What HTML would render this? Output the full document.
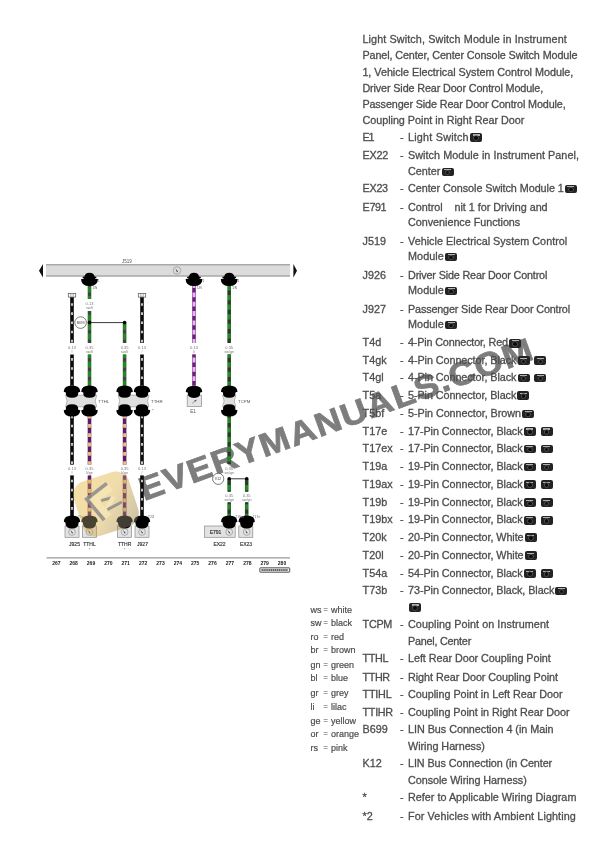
<!DOCTYPE html>
<html><head><meta charset="utf-8">
<style>
html,body{margin:0;padding:0;background:#fff;}
body{width:612px;height:866px;position:relative;overflow:hidden;}
.t{position:absolute;white-space:nowrap;font-family:"Liberation Sans",sans-serif;font-size:10.8px;line-height:16px;color:#4d4d4d;letter-spacing:0px;-webkit-text-stroke:0.3px #4d4d4d;}
.l{position:absolute;white-space:nowrap;font-family:"Liberation Sans",sans-serif;font-size:9px;line-height:14px;color:#4d4d4d;-webkit-text-stroke:0.2px #4d4d4d;}
.ic{display:inline-block;width:12px;height:8.8px;margin-left:1.2px;vertical-align:-1.3px;border-radius:2px;background:#232323;position:relative;}
.ic:before{content:"";position:absolute;left:2.5px;right:2.5px;top:1.4px;height:1.2px;background:#b0b0b0;}
.ic:after{content:"";position:absolute;left:4.2px;top:3.2px;width:3.6px;height:3.6px;border-radius:50%;background:#0c0c0c;box-shadow:0 0 0 0.7px #5a5a5a;}
.sp{display:inline-block;width:3.8px;}
.wm{position:absolute;left:0;top:0;font-family:"Liberation Sans",sans-serif;font-weight:bold;font-size:35px;line-height:40px;color:#7d7d7d;white-space:nowrap;transform-origin:0 32px;}
svg{position:absolute;left:0;top:0;}
</style></head><body>
<div class="wm" style="left:144.3px;top:468.2px;font-size:33px;line-height:44px;letter-spacing:1.1px;transform-origin:0 33px;transform:rotate(-19.96deg) scaleX(1.1);-webkit-text-stroke:0.7px #7d7d7d;">EVERYMANUALS.COM</div>
<svg width="612" height="866" viewBox="0 0 612 866">
<rect x="46" y="264.5" width="244" height="11.5" fill="#dcdcdc"/>
<line x1="46" y1="264.7" x2="290" y2="264.7" stroke="#a9a9a9" stroke-width="1.4"/>
<line x1="46" y1="276" x2="290" y2="276" stroke="#a9a9a9" stroke-width="1.4"/>
<path d="M39 270.7 L43 264 L43 277.5 Z" fill="#111"/>
<path d="M297 270.7 L293.4 264 L293.4 277.5 Z" fill="#111"/>
<text x="122" y="262.5" font-family="Liberation Sans" font-size="4.5" fill="#555">J519</text>
<circle cx="177" cy="270.5" r="3.8" fill="none" stroke="#888" stroke-width="0.6"/>
<path d="M175.5 268.5 L178 271.5 L177 272.5 Z" fill="#333"/>
<line x1="72" y1="297" x2="72" y2="343" stroke="#0a0a0a" stroke-width="3.6"/>
<line x1="72" y1="297" x2="72" y2="343" stroke="#fff" stroke-width="1.5" stroke-dasharray="2.6 6.55" stroke-dashoffset="2.95"/>
<line x1="72" y1="354.5" x2="72" y2="388" stroke="#0a0a0a" stroke-width="3.6"/>
<line x1="72" y1="354.5" x2="72" y2="388" stroke="#fff" stroke-width="1.5" stroke-dasharray="2.6 6.55" stroke-dashoffset="5.55"/>
<line x1="142" y1="297" x2="142" y2="343" stroke="#0a0a0a" stroke-width="3.6"/>
<line x1="142" y1="297" x2="142" y2="343" stroke="#fff" stroke-width="1.5" stroke-dasharray="2.6 6.55" stroke-dashoffset="2.95"/>
<line x1="142" y1="354.5" x2="142" y2="388" stroke="#0a0a0a" stroke-width="3.6"/>
<line x1="142" y1="354.5" x2="142" y2="388" stroke="#fff" stroke-width="1.5" stroke-dasharray="2.6 6.55" stroke-dashoffset="5.55"/>
<line x1="89.5" y1="284" x2="89.5" y2="299" stroke="#236e23" stroke-width="3.6"/>
<line x1="89.5" y1="284" x2="89.5" y2="299" stroke="#248a24" stroke-width="2.6"/>
<line x1="89.5" y1="284" x2="89.5" y2="299" stroke="#4a3a52" stroke-width="2.8" stroke-dasharray="3.5 5.90" stroke-dashoffset="0.90"/>
<line x1="89.5" y1="311" x2="89.5" y2="343" stroke="#236e23" stroke-width="3.6"/>
<line x1="89.5" y1="311" x2="89.5" y2="343" stroke="#248a24" stroke-width="2.6"/>
<line x1="89.5" y1="311" x2="89.5" y2="343" stroke="#4a3a52" stroke-width="2.8" stroke-dasharray="3.5 5.90" stroke-dashoffset="9.10"/>
<line x1="89.5" y1="354.5" x2="89.5" y2="388" stroke="#236e23" stroke-width="3.6"/>
<line x1="89.5" y1="354.5" x2="89.5" y2="388" stroke="#248a24" stroke-width="2.6"/>
<line x1="89.5" y1="354.5" x2="89.5" y2="388" stroke="#4a3a52" stroke-width="2.8" stroke-dasharray="3.5 5.90" stroke-dashoffset="5.60"/>
<line x1="124.6" y1="322.6" x2="124.6" y2="343" stroke="#236e23" stroke-width="3.6"/>
<line x1="124.6" y1="322.6" x2="124.6" y2="343" stroke="#248a24" stroke-width="2.6"/>
<line x1="124.6" y1="322.6" x2="124.6" y2="343" stroke="#4a3a52" stroke-width="2.8" stroke-dasharray="3.5 5.90" stroke-dashoffset="1.90"/>
<line x1="124.6" y1="354.5" x2="124.6" y2="388" stroke="#236e23" stroke-width="3.6"/>
<line x1="124.6" y1="354.5" x2="124.6" y2="388" stroke="#248a24" stroke-width="2.6"/>
<line x1="124.6" y1="354.5" x2="124.6" y2="388" stroke="#4a3a52" stroke-width="2.8" stroke-dasharray="3.5 5.90" stroke-dashoffset="5.60"/>
<line x1="194" y1="284" x2="194" y2="343" stroke="#701a80" stroke-width="3.6"/>
<line x1="194" y1="284" x2="194" y2="343" stroke="#e4bce9" stroke-width="2.8" stroke-dasharray="4.8 4.50" stroke-dashoffset="0.80"/>
<line x1="194" y1="354.3" x2="194" y2="388" stroke="#701a80" stroke-width="3.6"/>
<line x1="194" y1="354.3" x2="194" y2="388" stroke="#e4bce9" stroke-width="2.8" stroke-dasharray="4.8 4.50" stroke-dashoffset="6.00"/>
<line x1="229.2" y1="284" x2="229.2" y2="343" stroke="#236e23" stroke-width="3.6"/>
<line x1="229.2" y1="284" x2="229.2" y2="343" stroke="#248a24" stroke-width="2.6"/>
<line x1="229.2" y1="284" x2="229.2" y2="343" stroke="#333" stroke-width="2.8" stroke-dasharray="4.4 5.20" stroke-dashoffset="3.00"/>
<line x1="229.2" y1="354.3" x2="229.2" y2="388" stroke="#236e23" stroke-width="3.6"/>
<line x1="229.2" y1="354.3" x2="229.2" y2="388" stroke="#248a24" stroke-width="2.6"/>
<line x1="229.2" y1="354.3" x2="229.2" y2="388" stroke="#333" stroke-width="2.8" stroke-dasharray="4.4 5.20" stroke-dashoffset="6.10"/>
<line x1="72" y1="414" x2="72" y2="464.7" stroke="#0a0a0a" stroke-width="3.6"/>
<line x1="72" y1="414" x2="72" y2="464.7" stroke="#fff" stroke-width="1.5" stroke-dasharray="2.6 6.55" stroke-dashoffset="7.55"/>
<line x1="72" y1="475.4" x2="72" y2="518" stroke="#0a0a0a" stroke-width="3.6"/>
<line x1="72" y1="475.4" x2="72" y2="518" stroke="#fff" stroke-width="1.5" stroke-dasharray="2.6 6.55" stroke-dashoffset="4.90"/>
<line x1="142" y1="414" x2="142" y2="464.7" stroke="#0a0a0a" stroke-width="3.6"/>
<line x1="142" y1="414" x2="142" y2="464.7" stroke="#fff" stroke-width="1.5" stroke-dasharray="2.6 6.55" stroke-dashoffset="7.55"/>
<line x1="142" y1="475.4" x2="142" y2="518" stroke="#0a0a0a" stroke-width="3.6"/>
<line x1="142" y1="475.4" x2="142" y2="518" stroke="#fff" stroke-width="1.5" stroke-dasharray="2.6 6.55" stroke-dashoffset="4.90"/>
<line x1="89.5" y1="414" x2="89.5" y2="464.7" stroke="#5e1a66" stroke-width="3.6"/>
<line x1="89.5" y1="414" x2="89.5" y2="464.7" stroke="#e9c77a" stroke-width="2.8" stroke-dasharray="3.8 5.50" stroke-dashoffset="8.60"/>
<line x1="89.5" y1="475.4" x2="89.5" y2="518" stroke="#5e1a66" stroke-width="3.6"/>
<line x1="89.5" y1="475.4" x2="89.5" y2="518" stroke="#e9c77a" stroke-width="2.8" stroke-dasharray="3.8 5.50" stroke-dashoffset="4.90"/>
<line x1="124.6" y1="414" x2="124.6" y2="464.7" stroke="#5e1a66" stroke-width="3.6"/>
<line x1="124.6" y1="414" x2="124.6" y2="464.7" stroke="#e9c77a" stroke-width="2.8" stroke-dasharray="3.8 5.50" stroke-dashoffset="8.60"/>
<line x1="124.6" y1="475.4" x2="124.6" y2="518" stroke="#5e1a66" stroke-width="3.6"/>
<line x1="124.6" y1="475.4" x2="124.6" y2="518" stroke="#e9c77a" stroke-width="2.8" stroke-dasharray="3.8 5.50" stroke-dashoffset="4.90"/>
<line x1="229.2" y1="414" x2="229.2" y2="464" stroke="#236e23" stroke-width="3.6"/>
<line x1="229.2" y1="414" x2="229.2" y2="464" stroke="#248a24" stroke-width="2.6"/>
<line x1="229.2" y1="414" x2="229.2" y2="464" stroke="#333" stroke-width="2.8" stroke-dasharray="4.4 5.20" stroke-dashoffset="0.60"/>
<line x1="229.2" y1="478.8" x2="229.2" y2="491.6" stroke="#236e23" stroke-width="3.6"/>
<line x1="229.2" y1="478.8" x2="229.2" y2="491.6" stroke="#248a24" stroke-width="2.6"/>
<line x1="229.2" y1="478.8" x2="229.2" y2="491.6" stroke="#333" stroke-width="2.8" stroke-dasharray="4.4 5.20" stroke-dashoffset="7.80"/>
<line x1="229.2" y1="502.4" x2="229.2" y2="518" stroke="#236e23" stroke-width="3.6"/>
<line x1="229.2" y1="502.4" x2="229.2" y2="518" stroke="#248a24" stroke-width="2.6"/>
<line x1="229.2" y1="502.4" x2="229.2" y2="518" stroke="#333" stroke-width="2.8" stroke-dasharray="4.4 5.20" stroke-dashoffset="2.60"/>
<line x1="246.7" y1="478.8" x2="246.7" y2="491.6" stroke="#236e23" stroke-width="3.6"/>
<line x1="246.7" y1="478.8" x2="246.7" y2="491.6" stroke="#248a24" stroke-width="2.6"/>
<line x1="246.7" y1="478.8" x2="246.7" y2="491.6" stroke="#333" stroke-width="2.8" stroke-dasharray="4.4 5.20" stroke-dashoffset="7.80"/>
<line x1="246.7" y1="502.4" x2="246.7" y2="518" stroke="#236e23" stroke-width="3.6"/>
<line x1="246.7" y1="502.4" x2="246.7" y2="518" stroke="#248a24" stroke-width="2.6"/>
<line x1="246.7" y1="502.4" x2="246.7" y2="518" stroke="#333" stroke-width="2.8" stroke-dasharray="4.4 5.20" stroke-dashoffset="2.60"/>
<rect x="68.3" y="293.5" width="7.4" height="3.6" fill="#fff" stroke="#555" stroke-width="0.7"/>
<line x1="70.8" y1="293.5" x2="70.8" y2="297" stroke="#555" stroke-width="0.5"/><line x1="73.2" y1="293.5" x2="73.2" y2="297" stroke="#555" stroke-width="0.5"/>
<rect x="138.3" y="293.5" width="7.4" height="3.6" fill="#fff" stroke="#555" stroke-width="0.7"/>
<line x1="140.8" y1="293.5" x2="140.8" y2="297" stroke="#555" stroke-width="0.5"/><line x1="143.2" y1="293.5" x2="143.2" y2="297" stroke="#555" stroke-width="0.5"/>
<line x1="89.5" y1="322.6" x2="124.6" y2="322.6" stroke="#222" stroke-width="0.9"/>
<circle cx="89.5" cy="322.6" r="1.8" fill="#000"/><circle cx="124.6" cy="322.6" r="1.8" fill="#000"/>
<circle cx="80.6" cy="322.6" r="5.8" fill="#fff" stroke="#444" stroke-width="0.7"/>
<text x="80.6" y="324" font-family="Liberation Sans" font-size="3.4" fill="#444" text-anchor="middle">B699</text>
<line x1="229.2" y1="478.8" x2="246.7" y2="478.8" stroke="#222" stroke-width="0.9"/>
<circle cx="229.2" cy="478.8" r="1.8" fill="#000"/><circle cx="246.7" cy="478.8" r="1.8" fill="#000"/>
<circle cx="218.2" cy="478.8" r="5.6" fill="#fff" stroke="#444" stroke-width="0.7"/>
<text x="218.2" y="480.2" font-family="Liberation Sans" font-size="3.4" fill="#444" text-anchor="middle">K12</text>
<text x="72" y="348.5" font-family="Liberation Sans" font-size="4.0" fill="#777" text-anchor="middle">0.13</text>
<text x="72" y="353" font-family="Liberation Sans" font-size="3.6" fill="#777" text-anchor="middle">I</text>
<text x="89.5" y="348.5" font-family="Liberation Sans" font-size="4.0" fill="#777" text-anchor="middle">0.35</text>
<text x="89.5" y="353" font-family="Liberation Sans" font-size="3.6" fill="#777" text-anchor="middle">sw/li</text>
<text x="124.6" y="348.5" font-family="Liberation Sans" font-size="4.0" fill="#777" text-anchor="middle">0.35</text>
<text x="124.6" y="353" font-family="Liberation Sans" font-size="3.6" fill="#777" text-anchor="middle">sw/li</text>
<text x="142" y="348.5" font-family="Liberation Sans" font-size="4.0" fill="#777" text-anchor="middle">0.13</text>
<text x="142" y="353" font-family="Liberation Sans" font-size="3.6" fill="#777" text-anchor="middle">/</text>
<text x="194" y="348.5" font-family="Liberation Sans" font-size="4.0" fill="#777" text-anchor="middle">0.13</text>
<text x="194" y="353" font-family="Liberation Sans" font-size="3.6" fill="#777" text-anchor="middle">li</text>
<text x="229.2" y="348.5" font-family="Liberation Sans" font-size="4.0" fill="#777" text-anchor="middle">0.35</text>
<text x="229.2" y="353" font-family="Liberation Sans" font-size="3.6" fill="#777" text-anchor="middle">sw/gn</text>
<text x="89.5" y="304.5" font-family="Liberation Sans" font-size="4.0" fill="#777" text-anchor="middle">0.13</text>
<text x="89.5" y="309.2" font-family="Liberation Sans" font-size="3.6" fill="#777" text-anchor="middle">sw/li</text>
<text x="72" y="469.5" font-family="Liberation Sans" font-size="4.0" fill="#777" text-anchor="middle">0.13</text>
<text x="72" y="474" font-family="Liberation Sans" font-size="3.6" fill="#777" text-anchor="middle">I</text>
<text x="89.5" y="469.5" font-family="Liberation Sans" font-size="4.0" fill="#777" text-anchor="middle">0.35</text>
<text x="89.5" y="474" font-family="Liberation Sans" font-size="3.6" fill="#777" text-anchor="middle">li/ge</text>
<text x="124.6" y="469.5" font-family="Liberation Sans" font-size="4.0" fill="#777" text-anchor="middle">0.35</text>
<text x="124.6" y="474" font-family="Liberation Sans" font-size="3.6" fill="#777" text-anchor="middle">li/ge</text>
<text x="142" y="469.5" font-family="Liberation Sans" font-size="4.0" fill="#777" text-anchor="middle">0.13</text>
<text x="142" y="474" font-family="Liberation Sans" font-size="3.6" fill="#777" text-anchor="middle">/</text>
<text x="229.2" y="469.5" font-family="Liberation Sans" font-size="4.0" fill="#777" text-anchor="middle">0.35</text>
<text x="229.2" y="474" font-family="Liberation Sans" font-size="3.6" fill="#777" text-anchor="middle">sw/gn</text>
<text x="229.2" y="496.5" font-family="Liberation Sans" font-size="4.0" fill="#777" text-anchor="middle">0.35</text>
<text x="229.2" y="501" font-family="Liberation Sans" font-size="3.6" fill="#777" text-anchor="middle">sw/gn</text>
<text x="246.7" y="496.5" font-family="Liberation Sans" font-size="4.0" fill="#777" text-anchor="middle">0.35</text>
<text x="246.7" y="501" font-family="Liberation Sans" font-size="3.6" fill="#777" text-anchor="middle">sw/gn</text>
<path d="M84.5 276.6 Q84.9 272.8 89.5 272.8 Q94.1 272.8 94.5 276.6 L96.1 276.8 Q96.9 277.40000000000003 96.1 278.1 L82.9 278.1 Q82.1 277.40000000000003 82.9 276.8 Z" fill="#000"/>
<path d="M84.0 277.8 L95.0 277.8 L95.3 278.8 L97.9 279.0 Q97.9 286.1 89.5 286.1 Q81.1 286.1 81.1 279.0 L83.7 278.8 Z" fill="#000"/>
<path d="M189 276.6 Q189.4 272.8 194 272.8 Q198.6 272.8 199 276.6 L200.6 276.8 Q201.4 277.40000000000003 200.6 278.1 L187.4 278.1 Q186.6 277.40000000000003 187.4 276.8 Z" fill="#000"/>
<path d="M188.5 277.8 L199.5 277.8 L199.8 278.8 L202.4 279.0 Q202.4 286.1 194 286.1 Q185.6 286.1 185.6 279.0 L188.2 278.8 Z" fill="#000"/>
<path d="M224.2 276.6 Q224.6 272.8 229.2 272.8 Q233.79999999999998 272.8 234.2 276.6 L235.79999999999998 276.8 Q236.6 277.40000000000003 235.79999999999998 278.1 L222.6 278.1 Q221.79999999999998 277.40000000000003 222.6 276.8 Z" fill="#000"/>
<path d="M223.7 277.8 L234.7 277.8 L235.0 278.8 L237.6 279.0 Q237.6 286.1 229.2 286.1 Q220.79999999999998 286.1 220.79999999999998 279.0 L223.39999999999998 278.8 Z" fill="#000"/>
<path d="M65.6 395.2 L96.7 395.2 Q93.7 401.0 96.7 406.8 L65.6 406.8 Q68.6 401.0 65.6 395.2 Z" fill="#dedede" stroke="#9a9a9a" stroke-width="0.7"/>
<path d="M118.2 395.2 L149 395.2 Q146 401.0 149 406.8 L118.2 406.8 Q121.2 401.0 118.2 395.2 Z" fill="#dedede" stroke="#9a9a9a" stroke-width="0.7"/>
<path d="M222.6 395.2 L235.8 395.2 Q232.8 401.0 235.8 406.8 L222.6 406.8 Q225.6 401.0 222.6 395.2 Z" fill="#dedede" stroke="#9a9a9a" stroke-width="0.7"/>
<path d="M63.7 391.8 Q64 385.5 72 385.5 Q80 385.5 80.3 391.8 L78.2 392.4 Q78.8 397.8 72 397.8 Q65.2 397.8 65.8 392.4 Z" fill="#000"/>
<path d="M65.8 409.7 Q65.2 404.3 72 404.3 Q78.8 404.3 78.2 409.7 L80.3 410.3 Q80 416.6 72 416.6 Q64 416.6 63.7 410.3 Z" fill="#000"/>
<path d="M81.2 391.8 Q81.5 385.5 89.5 385.5 Q97.5 385.5 97.8 391.8 L95.7 392.4 Q96.3 397.8 89.5 397.8 Q82.7 397.8 83.3 392.4 Z" fill="#000"/>
<path d="M83.3 409.7 Q82.7 404.3 89.5 404.3 Q96.3 404.3 95.7 409.7 L97.8 410.3 Q97.5 416.6 89.5 416.6 Q81.5 416.6 81.2 410.3 Z" fill="#000"/>
<path d="M116.3 391.8 Q116.6 385.5 124.6 385.5 Q132.6 385.5 132.9 391.8 L130.79999999999998 392.4 Q131.4 397.8 124.6 397.8 Q117.8 397.8 118.39999999999999 392.4 Z" fill="#000"/>
<path d="M118.39999999999999 409.7 Q117.8 404.3 124.6 404.3 Q131.4 404.3 130.79999999999998 409.7 L132.9 410.3 Q132.6 416.6 124.6 416.6 Q116.6 416.6 116.3 410.3 Z" fill="#000"/>
<path d="M133.7 391.8 Q134 385.5 142 385.5 Q150 385.5 150.3 391.8 L148.2 392.4 Q148.8 397.8 142 397.8 Q135.2 397.8 135.8 392.4 Z" fill="#000"/>
<path d="M135.8 409.7 Q135.2 404.3 142 404.3 Q148.8 404.3 148.2 409.7 L150.3 410.3 Q150 416.6 142 416.6 Q134 416.6 133.7 410.3 Z" fill="#000"/>
<path d="M220.89999999999998 391.8 Q221.2 385.5 229.2 385.5 Q237.2 385.5 237.5 391.8 L235.39999999999998 392.4 Q236.0 397.8 229.2 397.8 Q222.39999999999998 397.8 223.0 392.4 Z" fill="#000"/>
<path d="M223.0 409.7 Q222.39999999999998 404.3 229.2 404.3 Q236.0 404.3 235.39999999999998 409.7 L237.5 410.3 Q237.2 416.6 229.2 416.6 Q221.2 416.6 220.89999999999998 410.3 Z" fill="#000"/>
<rect x="187.2" y="395.2" width="14.2" height="11.2" fill="#e4e4e4" stroke="#8a8a8a" stroke-width="0.7"/>
<path d="M192.2 403.4 L196.6 400" stroke="#666" stroke-width="0.6"/><path d="M194 400.6 L196.4 400 L195.8 401.6 Z" fill="#444"/>
<path d="M185.7 392.0 Q186 385.7 194 385.7 Q202 385.7 202.3 392.0 L200.2 392.59999999999997 Q200.8 398.0 194 398.0 Q187.2 398.0 187.8 392.59999999999997 Z" fill="#000"/>
<text x="193" y="413" font-family="Liberation Sans" font-size="4.6" fill="#555" text-anchor="middle">E1</text>
<text x="98.3" y="402.5" font-family="Liberation Sans" font-size="4.4" fill="#555" text-anchor="start">TTHL</text>
<text x="151" y="402.5" font-family="Liberation Sans" font-size="4.4" fill="#555" text-anchor="start">TTHR</text>
<text x="238" y="402.5" font-family="Liberation Sans" font-size="4.4" fill="#555" text-anchor="start">TCPM</text>
<text x="152" y="412" font-family="Liberation Sans" font-size="4.4" fill="#555" text-anchor="start">*</text>
<rect x="65" y="526" width="14" height="11.299999999999955" fill="#e2e2e2" stroke="#8a8a8a" stroke-width="0.7"/>
<circle cx="72" cy="532" r="3.4" fill="none" stroke="#777" stroke-width="0.5"/><path d="M70.5 530 L73 533 L72 533.6 Z" fill="#222"/>
<rect x="82.5" y="526" width="14.0" height="11.299999999999955" fill="#e2e2e2" stroke="#8a8a8a" stroke-width="0.7"/>
<circle cx="89.5" cy="532" r="3.4" fill="none" stroke="#777" stroke-width="0.5"/><path d="M88.0 530 L90.5 533 L89.5 533.6 Z" fill="#222"/>
<rect x="117.6" y="526" width="14.0" height="11.299999999999955" fill="#e2e2e2" stroke="#8a8a8a" stroke-width="0.7"/>
<circle cx="124.6" cy="532" r="3.4" fill="none" stroke="#777" stroke-width="0.5"/><path d="M123.1 530 L125.6 533 L124.6 533.6 Z" fill="#222"/>
<rect x="135" y="526" width="14" height="11.299999999999955" fill="#e2e2e2" stroke="#8a8a8a" stroke-width="0.7"/>
<circle cx="142" cy="532" r="3.4" fill="none" stroke="#777" stroke-width="0.5"/><path d="M140.5 530 L143 533 L142 533.6 Z" fill="#222"/>
<rect x="204.5" y="526" width="30.69999999999999" height="11.299999999999955" fill="#e2e2e2" stroke="#8a8a8a" stroke-width="0.7"/>
<rect x="238.8" y="526" width="14.0" height="11.299999999999955" fill="#e2e2e2" stroke="#8a8a8a" stroke-width="0.7"/>
<circle cx="229.2" cy="532" r="3.4" fill="none" stroke="#777" stroke-width="0.5"/><path d="M227.7 530 L230.2 533 L229.2 533.6 Z" fill="#222"/>
<circle cx="246.7" cy="532" r="3.4" fill="none" stroke="#777" stroke-width="0.5"/><path d="M245.2 530 L247.7 533 L246.7 533.6 Z" fill="#222"/>
<path d="M63.8 521.8 Q64 515.4 72 515.4 Q80 515.4 80.2 521.8 L78.6 522.6 Q78.8 528.6 72 528.6 Q65.2 528.6 65.4 522.6 Z" fill="#000"/>
<path d="M81.3 521.8 Q81.5 515.4 89.5 515.4 Q97.5 515.4 97.7 521.8 L96.1 522.6 Q96.3 528.6 89.5 528.6 Q82.7 528.6 82.9 522.6 Z" fill="#000"/>
<path d="M116.39999999999999 521.8 Q116.6 515.4 124.6 515.4 Q132.6 515.4 132.79999999999998 521.8 L131.2 522.6 Q131.4 528.6 124.6 528.6 Q117.8 528.6 118.0 522.6 Z" fill="#000"/>
<path d="M133.8 521.8 Q134 515.4 142 515.4 Q150 515.4 150.2 521.8 L148.6 522.6 Q148.8 528.6 142 528.6 Q135.2 528.6 135.4 522.6 Z" fill="#000"/>
<path d="M221.0 521.8 Q221.2 515.4 229.2 515.4 Q237.2 515.4 237.39999999999998 521.8 L235.79999999999998 522.6 Q236.0 528.6 229.2 528.6 Q222.39999999999998 528.6 222.6 522.6 Z" fill="#000"/>
<path d="M238.5 521.8 Q238.7 515.4 246.7 515.4 Q254.7 515.4 254.89999999999998 521.8 L253.29999999999998 522.6 Q253.5 528.6 246.7 528.6 Q239.89999999999998 528.6 240.1 522.6 Z" fill="#000"/>
<text x="215.5" y="533.8" font-family="Liberation Sans" font-size="5" fill="#333" stroke="#333" stroke-width="0.15" text-anchor="middle">E791</text>
<text x="74.5" y="546" font-family="Liberation Sans" font-size="5" fill="#333" stroke="#333" stroke-width="0.15" text-anchor="middle">J925</text>
<text x="89.5" y="546" font-family="Liberation Sans" font-size="5" fill="#333" stroke="#333" stroke-width="0.15" text-anchor="middle">TTHL</text>
<text x="124.6" y="546" font-family="Liberation Sans" font-size="5" fill="#333" stroke="#333" stroke-width="0.15" text-anchor="middle">TTHR</text>
<text x="142.5" y="546" font-family="Liberation Sans" font-size="5" fill="#333" stroke="#333" stroke-width="0.15" text-anchor="middle">J927</text>
<text x="219.5" y="546" font-family="Liberation Sans" font-size="5" fill="#333" stroke="#333" stroke-width="0.15" text-anchor="middle">EX22</text>
<text x="246" y="546" font-family="Liberation Sans" font-size="5" fill="#333" stroke="#333" stroke-width="0.15" text-anchor="middle">EX23</text>
<text x="78" y="517.5" font-family="Liberation Sans" font-size="3.2" fill="#666" text-anchor="start">T5a</text>
<text x="148" y="517.5" font-family="Liberation Sans" font-size="3.2" fill="#666" text-anchor="start">T20l</text>
<text x="235.2" y="517.5" font-family="Liberation Sans" font-size="3.2" fill="#666" text-anchor="start">T19ax</text>
<text x="252.7" y="517.5" font-family="Liberation Sans" font-size="3.2" fill="#666" text-anchor="start">T17e</text>
<text x="89.5" y="550.5" font-family="Liberation Sans" font-size="4" fill="#666" text-anchor="middle">*</text>
<text x="124.6" y="550.5" font-family="Liberation Sans" font-size="4" fill="#666" text-anchor="middle">*</text>
<line x1="46.5" y1="557.9" x2="290" y2="557.9" stroke="#9a9a9a" stroke-width="1.1"/>
<text x="56.3" y="564.8" font-family="Liberation Sans" font-weight="bold" font-size="5" fill="#1a1a1a" text-anchor="middle">267</text>
<text x="73.7" y="564.8" font-family="Liberation Sans" font-weight="bold" font-size="5" fill="#1a1a1a" text-anchor="middle">268</text>
<text x="91.0" y="564.8" font-family="Liberation Sans" font-weight="bold" font-size="5" fill="#1a1a1a" text-anchor="middle">269</text>
<text x="108.4" y="564.8" font-family="Liberation Sans" font-weight="bold" font-size="5" fill="#1a1a1a" text-anchor="middle">270</text>
<text x="125.7" y="564.8" font-family="Liberation Sans" font-weight="bold" font-size="5" fill="#1a1a1a" text-anchor="middle">271</text>
<text x="143.1" y="564.8" font-family="Liberation Sans" font-weight="bold" font-size="5" fill="#1a1a1a" text-anchor="middle">272</text>
<text x="160.5" y="564.8" font-family="Liberation Sans" font-weight="bold" font-size="5" fill="#1a1a1a" text-anchor="middle">273</text>
<text x="177.8" y="564.8" font-family="Liberation Sans" font-weight="bold" font-size="5" fill="#1a1a1a" text-anchor="middle">274</text>
<text x="195.2" y="564.8" font-family="Liberation Sans" font-weight="bold" font-size="5" fill="#1a1a1a" text-anchor="middle">275</text>
<text x="212.5" y="564.8" font-family="Liberation Sans" font-weight="bold" font-size="5" fill="#1a1a1a" text-anchor="middle">276</text>
<text x="229.9" y="564.8" font-family="Liberation Sans" font-weight="bold" font-size="5" fill="#1a1a1a" text-anchor="middle">277</text>
<text x="247.3" y="564.8" font-family="Liberation Sans" font-weight="bold" font-size="5" fill="#1a1a1a" text-anchor="middle">278</text>
<text x="264.6" y="564.8" font-family="Liberation Sans" font-weight="bold" font-size="5" fill="#1a1a1a" text-anchor="middle">279</text>
<text x="282.0" y="564.8" font-family="Liberation Sans" font-weight="bold" font-size="5" fill="#1a1a1a" text-anchor="middle">280</text>
<rect x="259.8" y="567.8" width="29.9" height="4.4" rx="0.6" fill="#eee" stroke="#444" stroke-width="0.9"/>
<line x1="261.5" y1="570" x2="288" y2="570" stroke="#333" stroke-width="1.6" stroke-dasharray="1.4 0.5"/>
<text x="92.5" y="289.2" font-family="Liberation Sans" font-size="3" fill="#555" text-anchor="start">1/N</text>
<text x="98.1" y="281.5" font-family="Liberation Sans" font-size="3" fill="#555" text-anchor="start">1</text>
<text x="197" y="289.2" font-family="Liberation Sans" font-size="3" fill="#555" text-anchor="start">1/N</text>
<text x="202.6" y="281.5" font-family="Liberation Sans" font-size="3" fill="#555" text-anchor="start">1</text>
<text x="232.2" y="289.2" font-family="Liberation Sans" font-size="3" fill="#555" text-anchor="start">1/N</text>
<text x="237.79999999999998" y="281.5" font-family="Liberation Sans" font-size="3" fill="#555" text-anchor="start">1</text>
<defs><linearGradient id="lg" x1="0" y1="0" x2="1" y2="1"><stop offset="0" stop-color="#f6e0a6"/><stop offset="0.5" stop-color="#f0dcaa"/><stop offset="1" stop-color="#c9c0a8"/></linearGradient></defs>
<g transform="translate(106 504) rotate(-18)"><rect x="-29" y="-28.5" width="58" height="57" rx="14" fill="url(#lg)" style="mix-blend-mode:multiply"/><rect x="-29" y="-28.5" width="58" height="57" rx="14" fill="url(#lg)" opacity="0.3"/></g>
<g fill="none" stroke-linecap="butt" stroke-linejoin="miter" opacity="0.85"><path d="M110.8 487.8 L93.6 499.8 L108.6 516.6" stroke="#f6e6b6" stroke-width="6.6"/><path d="M106.8 483.4 L86.6 499 L104.2 520.2" stroke="#8c8c8c" stroke-width="3.6"/><path d="M101.2 500.6 L113.5 497.2" stroke="#8c8c8c" stroke-width="3"/><path d="M113.6 496.4 L107 508.6" stroke="#f6e6b6" stroke-width="4.6"/><path d="M107.4 509.6 L121.8 502" stroke="#8c8c8c" stroke-width="3"/></g>
</svg><div class="t" style="top:31.2px;left:362.4px;letter-spacing:0.114px">Light Switch, Switch Module in Instrument</div>
<div class="t" style="top:47.4px;left:362.4px;letter-spacing:-0.108px">Panel, Center, Center Console Switch Module</div>
<div class="t" style="top:63.5px;left:362.4px;letter-spacing:-0.023px">1, Vehicle Electrical System Control Module,</div>
<div class="t" style="top:79.6px;left:362.4px;letter-spacing:-0.128px">Driver Side Rear Door Control Module,</div>
<div class="t" style="top:95.7px;left:362.4px;letter-spacing:-0.126px">Passenger Side Rear Door Control Module,</div>
<div class="t" style="top:112.4px;left:362.4px;letter-spacing:-0.019px">Coupling Point in Right Rear Door</div>
<div class="t" style="top:128.6px;left:362.6px;letter-spacing:-1.300px">E1</div>
<div class="t" style="top:128.6px;left:400.1px">-</div>
<div class="t" style="top:128.6px;left:408px;letter-spacing:0.216px">Light Switch<i class="ic"></i></div>
<div class="t" style="top:146.5px;left:362.6px;letter-spacing:-0.275px">EX22</div>
<div class="t" style="top:146.5px;left:400.1px">-</div>
<div class="t" style="top:146.5px;left:408px;letter-spacing:0.051px">Switch Module in Instrument Panel,</div>
<div class="t" style="top:163.0px;left:408px;letter-spacing:-0.018px">Center<i class="ic"></i></div>
<div class="t" style="top:180.0px;left:362.6px;letter-spacing:-0.300px">EX23</div>
<div class="t" style="top:180.0px;left:400.1px">-</div>
<div class="t" style="top:180.0px;left:408px;letter-spacing:-0.048px">Center Console Switch Module 1<i class="ic"></i></div>
<div class="t" style="top:198.8px;left:362.6px;letter-spacing:-0.400px">E791</div>
<div class="t" style="top:198.8px;left:400.1px">-</div>
<div class="t" style="top:198.8px;left:408px;letter-spacing:-0.026px">Control&nbsp;&nbsp;&nbsp; nit 1 for Driving and</div>
<div class="t" style="top:214.1px;left:408px;letter-spacing:-0.030px">Convenience Functions</div>
<div class="t" style="top:232.8px;left:362.6px">J519</div>
<div class="t" style="top:232.8px;left:400.1px">-</div>
<div class="t" style="top:232.8px;left:408px;letter-spacing:0.026px">Vehicle Electrical System Control</div>
<div class="t" style="top:248.1px;left:408px;letter-spacing:0.065px">Module<i class="ic"></i></div>
<div class="t" style="top:266.8px;left:362.6px">J926</div>
<div class="t" style="top:266.8px;left:400.1px">-</div>
<div class="t" style="top:266.8px;left:408px;letter-spacing:-0.166px">Driver Side Rear Door Control</div>
<div class="t" style="top:282.2px;left:408px;letter-spacing:0.065px">Module<i class="ic"></i></div>
<div class="t" style="top:300.8px;left:362.6px">J927</div>
<div class="t" style="top:300.8px;left:400.1px">-</div>
<div class="t" style="top:300.8px;left:408px;letter-spacing:-0.152px">Passenger Side Rear Door Control</div>
<div class="t" style="top:316.1px;left:408px;letter-spacing:0.065px">Module<i class="ic"></i></div>
<div class="t" style="top:334.4px;left:362.6px">T4d</div>
<div class="t" style="top:334.4px;left:400.1px">-</div>
<div class="t" style="top:334.4px;left:408px;letter-spacing:-0.171px">4-Pin Connector, Red<i class="ic"></i></div>
<div class="t" style="top:351.9px;left:362.6px">T4gk</div>
<div class="t" style="top:351.9px;left:400.1px">-</div>
<div class="t" style="top:351.9px;left:408px;letter-spacing:-0.069px">4-Pin Connector, Black<i class="ic"></i><i class="sp"></i><i class="ic"></i></div>
<div class="t" style="top:369.1px;left:362.6px">T4gl</div>
<div class="t" style="top:369.1px;left:400.1px">-</div>
<div class="t" style="top:369.1px;left:408px;letter-spacing:-0.069px">4-Pin Connector, Black<i class="ic"></i><i class="sp"></i><i class="ic"></i></div>
<div class="t" style="top:386.8px;left:362.6px">T5a</div>
<div class="t" style="top:386.8px;left:400.1px">-</div>
<div class="t" style="top:386.8px;left:408px;letter-spacing:-0.073px">5-Pin Connector, Black<i class="ic"></i></div>
<div class="t" style="top:405.0px;left:362.6px">T5bf</div>
<div class="t" style="top:405.0px;left:400.1px">-</div>
<div class="t" style="top:405.0px;left:408px;letter-spacing:-0.051px">5-Pin Connector, Brown<i class="ic"></i></div>
<div class="t" style="top:422.5px;left:362.6px">T17e</div>
<div class="t" style="top:422.5px;left:400.1px">-</div>
<div class="t" style="top:422.5px;left:408px;letter-spacing:-0.057px">17-Pin Connector, Black<i class="ic"></i><i class="sp"></i><i class="ic"></i></div>
<div class="t" style="top:440.2px;left:362.6px">T17ex</div>
<div class="t" style="top:440.2px;left:400.1px">-</div>
<div class="t" style="top:440.2px;left:408px;letter-spacing:-0.057px">17-Pin Connector, Black<i class="ic"></i><i class="sp"></i><i class="ic"></i></div>
<div class="t" style="top:458.0px;left:362.6px">T19a</div>
<div class="t" style="top:458.0px;left:400.1px">-</div>
<div class="t" style="top:458.0px;left:408px;letter-spacing:-0.057px">19-Pin Connector, Black<i class="ic"></i><i class="sp"></i><i class="ic"></i></div>
<div class="t" style="top:475.7px;left:362.6px">T19ax</div>
<div class="t" style="top:475.7px;left:400.1px">-</div>
<div class="t" style="top:475.7px;left:408px;letter-spacing:-0.057px">19-Pin Connector, Black<i class="ic"></i><i class="sp"></i><i class="ic"></i></div>
<div class="t" style="top:493.9px;left:362.6px">T19b</div>
<div class="t" style="top:493.9px;left:400.1px">-</div>
<div class="t" style="top:493.9px;left:408px;letter-spacing:-0.057px">19-Pin Connector, Black<i class="ic"></i><i class="sp"></i><i class="ic"></i></div>
<div class="t" style="top:511.3px;left:362.6px">T19bx</div>
<div class="t" style="top:511.3px;left:400.1px">-</div>
<div class="t" style="top:511.3px;left:408px;letter-spacing:-0.057px">19-Pin Connector, Black<i class="ic"></i><i class="sp"></i><i class="ic"></i></div>
<div class="t" style="top:528.7px;left:362.6px">T20k</div>
<div class="t" style="top:528.7px;left:400.1px">-</div>
<div class="t" style="top:528.7px;left:408px;letter-spacing:-0.065px">20-Pin Connector, White<i class="ic"></i></div>
<div class="t" style="top:546.9px;left:362.6px">T20l</div>
<div class="t" style="top:546.9px;left:400.1px">-</div>
<div class="t" style="top:546.9px;left:408px;letter-spacing:-0.065px">20-Pin Connector, White<i class="ic"></i></div>
<div class="t" style="top:564.7px;left:362.6px">T54a</div>
<div class="t" style="top:564.7px;left:400.1px">-</div>
<div class="t" style="top:564.7px;left:408px;letter-spacing:-0.057px">54-Pin Connector, Black<i class="ic"></i><i class="sp"></i><i class="ic"></i></div>
<div class="t" style="top:582.2px;left:362.6px">T73b</div>
<div class="t" style="top:582.2px;left:400.1px">-</div>
<div class="t" style="top:582.2px;left:408px;letter-spacing:-0.065px">73-Pin Connector, Black, Black<i class="ic"></i></div>
<div class="t" style="top:598.5px;left:408px"><i class="ic"></i></div>
<div class="t" style="top:616.4px;left:362.6px;letter-spacing:-0.275px">TCPM</div>
<div class="t" style="top:616.4px;left:400.1px">-</div>
<div class="t" style="top:616.4px;left:408px;letter-spacing:0.063px">Coupling Point on Instrument</div>
<div class="t" style="top:633.0px;left:408px;letter-spacing:-0.233px">Panel, Center</div>
<div class="t" style="top:650.4px;left:362.6px;letter-spacing:-0.350px">TTHL</div>
<div class="t" style="top:650.4px;left:400.1px">-</div>
<div class="t" style="top:650.4px;left:408px;letter-spacing:-0.047px">Left Rear Door Coupling Point</div>
<div class="t" style="top:668.7px;left:362.6px;letter-spacing:-0.425px">TTHR</div>
<div class="t" style="top:668.7px;left:400.1px">-</div>
<div class="t" style="top:668.7px;left:408px;letter-spacing:-0.041px">Right Rear Door Coupling Point</div>
<div class="t" style="top:686.4px;left:362.6px;letter-spacing:-0.220px">TTIHL</div>
<div class="t" style="top:686.4px;left:400.1px">-</div>
<div class="t" style="top:686.4px;left:408px;letter-spacing:-0.026px">Coupling Point in Left Rear Door</div>
<div class="t" style="top:703.9px;left:362.6px;letter-spacing:-0.320px">TTIHR</div>
<div class="t" style="top:703.9px;left:400.1px">-</div>
<div class="t" style="top:703.9px;left:408px;letter-spacing:-0.034px">Coupling Point in Right Rear Door</div>
<div class="t" style="top:721.0px;left:362.6px">B699</div>
<div class="t" style="top:721.0px;left:400.1px">-</div>
<div class="t" style="top:721.0px;left:408px;letter-spacing:-0.033px">LIN Bus Connection 4 (in Main</div>
<div class="t" style="top:737.7px;left:408px;letter-spacing:-0.033px">Wiring Harness)</div>
<div class="t" style="top:755.0px;left:362.6px">K12</div>
<div class="t" style="top:755.0px;left:400.1px">-</div>
<div class="t" style="top:755.0px;left:408px;letter-spacing:-0.080px">LIN Bus Connection (in Center</div>
<div class="t" style="top:771.7px;left:408px;letter-spacing:-0.057px">Console Wiring Harness)</div>
<div class="t" style="top:789.4px;left:362.6px">*</div>
<div class="t" style="top:789.4px;left:400.1px">-</div>
<div class="t" style="top:789.4px;left:408px;letter-spacing:0.011px">Refer to Applicable Wiring Diagram</div>
<div class="t" style="top:807.7px;left:362.6px">*2</div>
<div class="t" style="top:807.7px;left:400.1px">-</div>
<div class="t" style="top:807.7px;left:408px;letter-spacing:0.102px">For Vehicles with Ambient Lighting</div>
<div class="l" style="top:602.7px;left:310.4px">ws</div>
<div class="l" style="top:602.7px;left:323.6px;font-size:7.4px">=</div>
<div class="l" style="top:602.7px;left:331px">white</div>
<div class="l" style="top:616.0px;left:310.4px">sw</div>
<div class="l" style="top:616.0px;left:323.6px;font-size:7.4px">=</div>
<div class="l" style="top:616.0px;left:331px">black</div>
<div class="l" style="top:630.2px;left:310.4px">ro</div>
<div class="l" style="top:630.2px;left:323.6px;font-size:7.4px">=</div>
<div class="l" style="top:630.2px;left:331px">red</div>
<div class="l" style="top:643.4px;left:310.4px">br</div>
<div class="l" style="top:643.4px;left:323.6px;font-size:7.4px">=</div>
<div class="l" style="top:643.4px;left:331px">brown</div>
<div class="l" style="top:657.6px;left:310.4px">gn</div>
<div class="l" style="top:657.6px;left:323.6px;font-size:7.4px">=</div>
<div class="l" style="top:657.6px;left:331px">green</div>
<div class="l" style="top:671.4px;left:310.4px">bl</div>
<div class="l" style="top:671.4px;left:323.6px;font-size:7.4px">=</div>
<div class="l" style="top:671.4px;left:331px">blue</div>
<div class="l" style="top:685.5px;left:310.4px">gr</div>
<div class="l" style="top:685.5px;left:323.6px;font-size:7.4px">=</div>
<div class="l" style="top:685.5px;left:331px">grey</div>
<div class="l" style="top:699.5px;left:310.4px">li</div>
<div class="l" style="top:699.5px;left:323.6px;font-size:7.4px">=</div>
<div class="l" style="top:699.5px;left:331px">lilac</div>
<div class="l" style="top:713.5px;left:310.4px">ge</div>
<div class="l" style="top:713.5px;left:323.6px;font-size:7.4px">=</div>
<div class="l" style="top:713.5px;left:331px">yellow</div>
<div class="l" style="top:727.0px;left:310.4px">or</div>
<div class="l" style="top:727.0px;left:323.6px;font-size:7.4px">=</div>
<div class="l" style="top:727.0px;left:331px">orange</div>
<div class="l" style="top:741.0px;left:310.4px">rs</div>
<div class="l" style="top:741.0px;left:323.6px;font-size:7.4px">=</div>
<div class="l" style="top:741.0px;left:331px">pink</div></body></html>
